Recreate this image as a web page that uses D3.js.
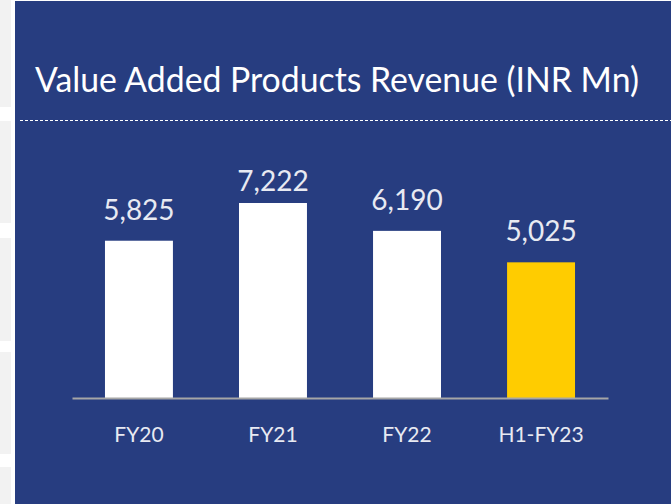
<!DOCTYPE html>
<html><head><meta charset="utf-8">
<script src="https://cdn.jsdelivr.net/npm/d3@7/dist/d3.min.js"></script>
<style>html,body{margin:0;padding:0;background:#fff;}svg{display:block;}</style>
</head><body>
<svg id="c" width="671" height="504"></svg>
<script>
const categories = ["FY20", "FY21", "FY22", "H1-FY23"];
const values = [5825, 7222, 6190, 5025];
const highlight = [false, false, false, true];
const title = "Value Added Products Revenue (INR Mn)";

const svg = d3.select("#c");
const W = 671, H = 504;
svg.append("rect").attr("width", W).attr("height", H).attr("fill", "#ffffff");
// left slide strips
[[0,107],[121,223],[238,341],[352,454],[467,504]].forEach(([a,b]) => {
  svg.append("rect").attr("x",0).attr("y",a).attr("width",11).attr("height",b-a).attr("fill","#f2f2f2");
});
svg.append("rect").attr("x",15).attr("y",1).attr("width",W-15).attr("height",H-1).attr("fill","#273d80");

const font = "Lato, 'Open Sans', sans-serif";
svg.append("text").attr("x", 35).attr("y", 92).attr("fill", "#ffffff")
  .attr("font-family", font).attr("font-size", 35).attr("textLength", 604).attr("lengthAdjust","spacingAndGlyphs")
  .text(title);
svg.append("line").attr("x1", 20).attr("x2", W).attr("y1", 120.5).attr("y2", 120.5)
  .attr("stroke", "#ffffff").attr("stroke-width", 1).attr("stroke-dasharray", "3,2");

const x = d3.scaleBand().domain(categories).range([72, 608]).paddingInner(0.493).paddingOuter(0.246);
const y = d3.scaleLinear().domain([0, 10000]).range([398, 128]);

svg.selectAll("rect.bar").data(values).join("rect").attr("class","bar")
  .attr("x", (d,i) => x(categories[i])).attr("width", x.bandwidth())
  .attr("y", d => y(d)).attr("height", d => y(0) - y(d))
  .attr("fill", (d,i) => highlight[i] ? "#ffcc00" : "#ffffff");

const axis = svg.append("g").attr("transform", "translate(0,398)")
  .call(d3.axisBottom(x).tickSize(0).tickPadding(0));
axis.select(".domain").attr("stroke", "#a6a6a6").attr("stroke-width", 2);
axis.selectAll("text").attr("fill", "#e8eaf2").attr("font-family", font).attr("font-size", 21)
  .attr("dy", null).attr("y", 44);

svg.selectAll("text.val").data(values).join("text").attr("class","val")
  .attr("x", (d,i) => x(categories[i]) + x.bandwidth()/2)
  .attr("y", d => Math.max(y(d) - 21, 191))
  .attr("text-anchor", "middle").attr("fill", "#e8eaf2")
  .attr("font-family", font).attr("font-size", 28)
  .text(d => d3.format(",")(d));
</script>
</body></html>
